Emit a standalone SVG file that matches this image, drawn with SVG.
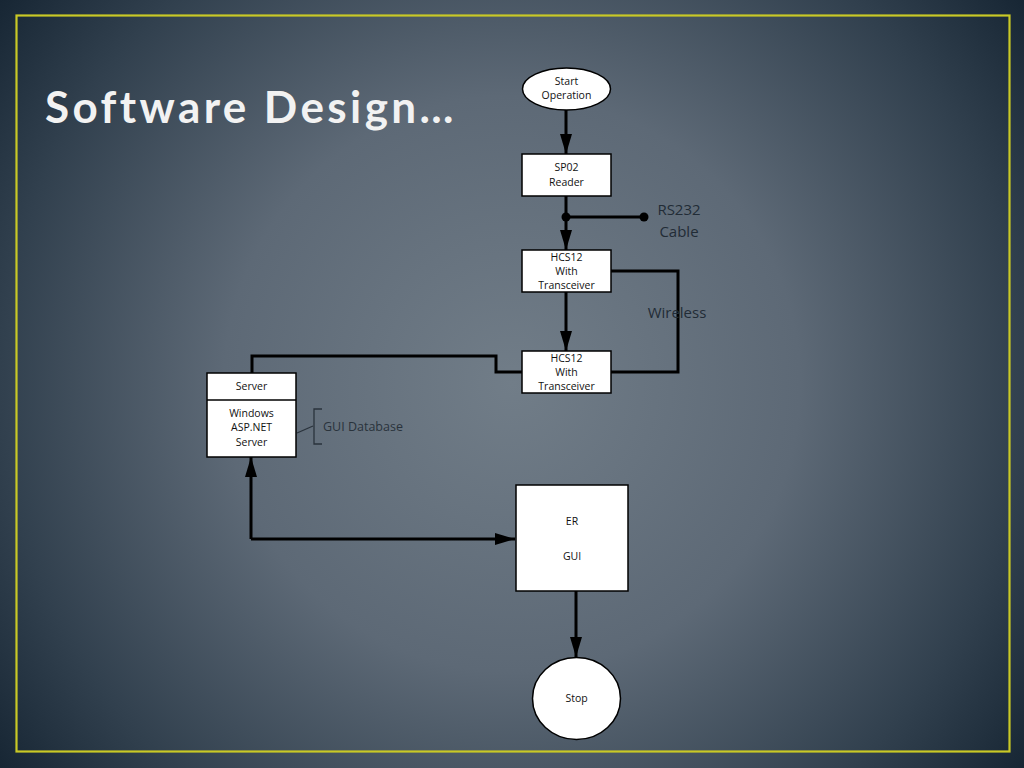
<svg xmlns="http://www.w3.org/2000/svg" width="1024" height="768" viewBox="0 0 1024 768">
<defs>
<radialGradient id="bg" cx="512" cy="384" r="640" gradientUnits="userSpaceOnUse">
<stop offset="0" stop-color="#717d88"/>
<stop offset="0.45" stop-color="#5d6976"/>
<stop offset="0.8" stop-color="#31404e"/>
<stop offset="1" stop-color="#172634"/>
</radialGradient>
<marker id="ah" viewBox="0 0 20 12" refX="20" refY="6" markerWidth="6.67" markerHeight="4" markerUnits="strokeWidth" orient="auto">
<path d="M0,0 L20,6 L0,12 Z" fill="#000"/>
</marker>
<style>
.box{fill:#fff;stroke:#000;stroke-width:1.5}
.t{font-family:"Open Sans","Noto Sans",sans-serif;font-size:10.5px;fill:#111;text-anchor:middle}
.lbl{font-family:"Open Sans","Noto Sans",sans-serif;font-size:15px;fill:#222c36;text-anchor:middle}
.c{fill:none;stroke:#000;stroke-width:3}
</style>
</defs>
<rect x="0" y="0" width="1024" height="768" fill="url(#bg)"/>
<rect x="16.5" y="15.5" width="993" height="736" fill="none" stroke="#c9c926" stroke-width="2.2"/>
<text x="45" y="123" font-family="Lato,'Open Sans',sans-serif" font-size="44" font-weight="bold" fill="#f2f2f2" letter-spacing="3.4">Software Design…</text>

<g id="connectors">
<path class="c" d="M566,110 V154" marker-end="url(#ah)"/>
<path class="c" d="M566,196 V250" marker-end="url(#ah)"/>
<path class="c" d="M566,217 H644"/>
<circle cx="566" cy="217" r="4.5" fill="#000"/>
<circle cx="644" cy="217" r="4.5" fill="#000"/>
<path class="c" d="M566,292 V351" marker-end="url(#ah)"/>
<path class="c" d="M611,271 H678 V372 H611"/>
<path class="c" d="M522,372 H496 V356 H252 V373"/>
<path class="c" d="M251,539 V457" marker-end="url(#ah)"/>
<path class="c" d="M251,539 H515" marker-end="url(#ah)"/>
<path class="c" d="M576,591 V657" marker-end="url(#ah)"/>
<path d="M297,433 L313,426" fill="none" stroke="#2a333c" stroke-width="1.3"/>
<path d="M322,409 H314 V444 H322" fill="none" stroke="#2a333c" stroke-width="1.3"/>
</g>

<g id="start">
<ellipse class="box" cx="566.5" cy="89" rx="44" ry="21"/>
<text class="t" x="566.5" y="85">Start</text>
<text class="t" x="566.5" y="99">Operation</text>
</g>
<g id="sp02">
<rect class="box" x="522" y="154" width="89" height="42"/>
<text class="t" x="566.5" y="171">SP02</text>
<text class="t" x="566.5" y="186">Reader</text>
</g>
<g id="rs232">
<text class="lbl" x="679" y="215">RS232</text>
<text class="lbl" x="679" y="237">Cable</text>
</g>
<g id="hcs12a">
<rect class="box" x="522" y="250" width="89" height="42"/>
<text class="t" x="566.5" y="261">HCS12</text>
<text class="t" x="566.5" y="275">With</text>
<text class="t" x="566.5" y="289">Transceiver</text>
</g>
<g id="wireless">
<text class="lbl" x="677" y="318">Wireless</text>
</g>
<g id="hcs12b">
<rect class="box" x="522" y="351" width="89" height="42"/>
<text class="t" x="566.5" y="362">HCS12</text>
<text class="t" x="566.5" y="376">With</text>
<text class="t" x="566.5" y="390">Transceiver</text>
</g>
<g id="server">
<rect class="box" x="207" y="373" width="89" height="84"/>
<line x1="207" y1="400" x2="296" y2="400" stroke="#000" stroke-width="1.5"/>
<text class="t" x="251.5" y="390">Server</text>
<text class="t" x="251.5" y="417">Windows</text>
<text class="t" x="251.5" y="431">ASP.NET</text>
<text class="t" x="251.5" y="446">Server</text>
</g>
<g id="guidb">
<text x="323" y="431" font-family="'Open Sans','Noto Sans',sans-serif" font-size="12.5" fill="#2a333c">GUI Database</text>
</g>
<g id="ergui">
<rect class="box" x="516" y="485" width="112" height="106"/>
<text class="t" x="572" y="525" font-size="12">ER</text>
<text class="t" x="572" y="560" font-size="12">GUI</text>
</g>
<g id="stop">
<ellipse class="box" cx="576.5" cy="698.5" rx="44" ry="41"/>
<text class="t" x="576.5" y="702">Stop</text>
</g>
</svg>
